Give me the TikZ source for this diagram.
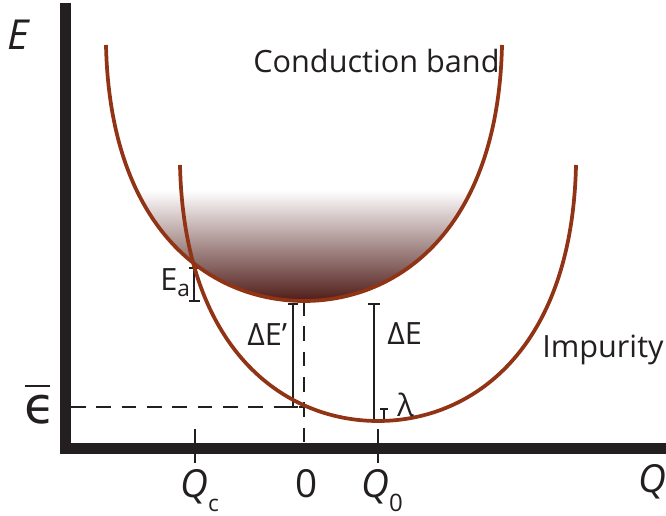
\documentclass[tikz,border=0pt]{standalone}
\usepackage{fontspec}
\setmainfont{Open Sans}
\newfontfamily\djv{DejaVu Sans}
\definecolor{band}{RGB}{145,52,22}
\definecolor{ink}{RGB}{35,31,32}
\definecolor{deep}{RGB}{76,24,20}
\definecolor{midtone}{RGB}{172,140,134}
\begin{document}
\begin{tikzpicture}[x=0.75pt,y=-0.75pt,
  curve/.style={draw=band,line width=2.8pt},
  brk/.style={draw=ink,line width=1pt},
  dsh/.style={draw=ink,line width=1pt,dash pattern=on 11pt off 8pt},
  axbar/.style={fill=ink},
  lbl/.style={text=ink,inner sep=0pt,anchor=base west,font=\fontsize{23}{27}\selectfont},
  big/.style={text=ink,inner sep=0pt,anchor=base west,font=\fontsize{29}{32}\selectfont}]
\useasboundingbox (0,0) rectangle (666,516);
% shading inside conduction band
\begin{scope}
  \clip (106,45) .. controls (110,230) and (210,301) .. (304,301)
        .. controls (398,301) and (498,230) .. (502,45) -- cycle;
  \shade[top color=white,middle color=midtone,bottom color=deep] (100,190) rectangle (510,303);
\end{scope}
% key points
\coordinate (cb) at (304,301);
\coordinate (cx) at (304,407);
\coordinate (ax0) at (304,443);
\coordinate (yax) at (71,407);
% dashed guides
\draw[dsh] (yax) -- (cx);
\draw[dsh] (cb) -- (ax0);
% brackets
\draw[brk] (194,268) -- (194,301) (189,268) -- (200,268) (189,301) -- (200,301);
\draw[brk] (293,304) -- (293,407) (288,304) -- (298,304) (288,407) -- (298,407);
\draw[brk] (374,304) -- (374,421) (368,304) -- (380,304) (368,421) -- (380,421);
\draw[brk] (384,409) -- (384,421) (380,409) -- (388,409);
% curves
\draw[curve] (106,45) .. controls (110,230) and (210,301) .. (304,301)
        .. controls (398,301) and (498,230) .. (502,45);
\draw[curve] (180,165) .. controls (184,350) and (284,421) .. (378,421)
        .. controls (472,421) and (572,350) .. (576,165);
% axes
\fill[axbar] (60,3) rectangle (71,454);
\fill[axbar] (60,443) rectangle (666,454);
\draw[brk] (195,429) -- (195,463);
\draw[brk] (378,429) -- (378,463);
% labels
\node[lbl,font=\fontsize{31}{36}\selectfont\itshape] (Elab) at (7,50) {E};
\node[lbl] (cond) at (253,73) {Conduction band};
\node[lbl] (Ea) at (160,290) {E\raisebox{-4.5pt}{\fontsize{17}{20}\selectfont a}};
\node[lbl] (dEp) at (247,345) {ΔE’};
\node[lbl] (dE) at (387,344) {ΔE};
\node[lbl] (lam) at (397,416) {λ};
\node[lbl] (imp) at (542,357) {Impurity};
\node[lbl,font=\djv\fontsize{38}{42}\selectfont] (eps) at (24,423) {ϵ};
\draw[ink,line width=1.1pt] (25,386) -- (50,386);
\node[big] (Qc) at (180,497) {\itshape Q\raisebox{-11pt}{\upshape\fontsize{17}{20}\selectfont c}};
\node[big] (zero) at (295,497) {0};
\node[big] (Q0) at (361,497) {\itshape Q\raisebox{-11pt}{\upshape\fontsize{18}{20}\selectfont 0}};
\node[big] (Q) at (638,492) {\itshape Q};
\end{tikzpicture}
\end{document}
